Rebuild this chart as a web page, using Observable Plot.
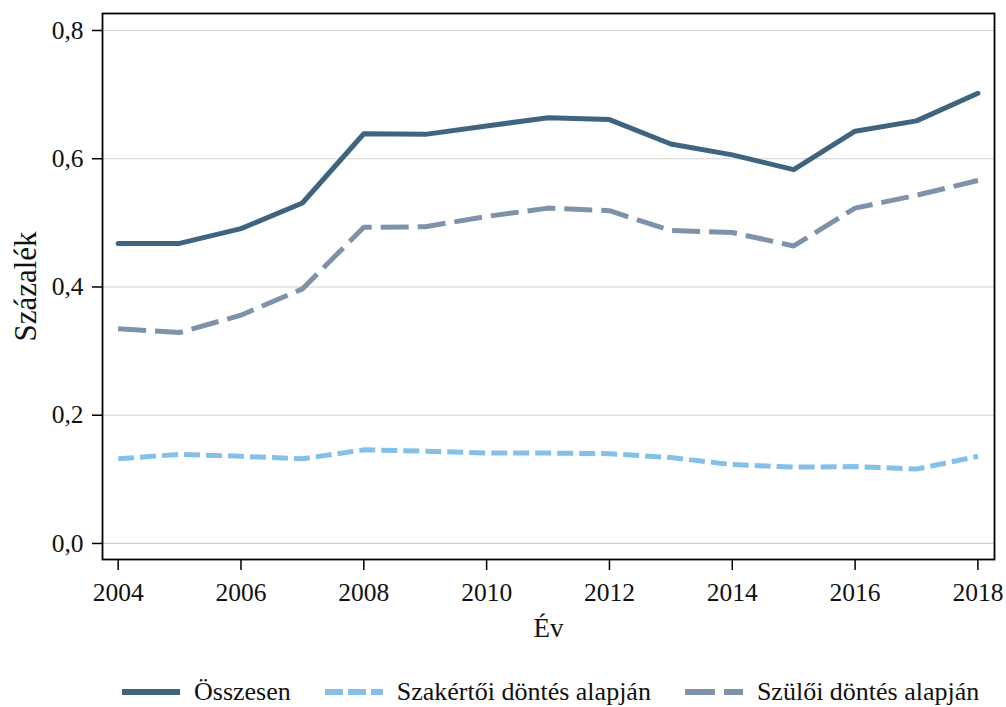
<!DOCTYPE html>
<html>
<head>
<meta charset="utf-8">
<script src="https://cdn.jsdelivr.net/npm/d3@7"></script>
<script src="https://cdn.jsdelivr.net/npm/@observablehq/plot@0.6"></script>
<style>
  html, body { margin: 0; padding: 0; background: #fff; }
  #wrap { position: relative; width: 1006px; height: 707px; font-family: "Liberation Serif", "Times New Roman", serif; }
  #legend { position: absolute; left: 122px; top: 677px; display: flex; align-items: flex-start; font-size: 26px; line-height: 30px; color: #111; white-space: nowrap; }
  #legend .item { display: flex; align-items: flex-start; margin-right: 34px; }
  #legend svg { display: block; margin-right: 14px; }
</style>
</head>
<body>
<div id="wrap"><div id="chart"></div><div id="legend"></div></div>
<script>
const years = [2004, 2005, 2006, 2007, 2008, 2009, 2010, 2011, 2012, 2013, 2014, 2015, 2016, 2017, 2018];
const osszesen = [0.468, 0.468, 0.491, 0.531, 0.639, 0.638, 0.651, 0.664, 0.661, 0.623, 0.606, 0.583, 0.643, 0.659, 0.702];
const szakertoi = [0.132, 0.139, 0.136, 0.132, 0.146, 0.144, 0.141, 0.141, 0.140, 0.134, 0.123, 0.119, 0.120, 0.116, 0.136];
const szuloi = [0.335, 0.329, 0.356, 0.397, 0.493, 0.494, 0.510, 0.523, 0.519, 0.488, 0.485, 0.464, 0.523, 0.543, 0.566];
const seriesNames = ["Összesen", "Szakértői döntés alapján", "Szülői döntés alapján"];
const seriesColors = ["#3e6480", "#85c0e9", "#7e92aa"];
const seriesDash = [null, "16,6", "28,9"];
const xTicks = [2004, 2006, 2008, 2010, 2012, 2014, 2016, 2018];
const yTicks = [0, 0.2, 0.4, 0.6, 0.8];
const xLabel = "Év";
const yLabel = "Százalék";

const seriesValues = [osszesen, szakertoi, szuloi];
const rows = seriesValues.map((vals, i) => years.map((yr, j) => ({year: yr, value: vals[j], series: seriesNames[i]})));

const fmt = v => v.toFixed(1).replace(".", ",");
const font = "Liberation Serif";

const lineMarks = rows.map((data, i) => Plot.line(data, {
  x: "year", y: "value",
  stroke: seriesColors[i],
  strokeWidth: 5,
  strokeDasharray: seriesDash[i] || undefined,
  strokeLinecap: seriesDash[i] ? "butt" : "round",
  strokeLinejoin: "round"
}));

const chart = Plot.plot({
  width: 1006,
  height: 665,
  marginLeft: 102,
  marginRight: 12,
  marginTop: 13,
  marginBottom: 106,
  style: {fontFamily: font, fontSize: "25.5px", color: "#111", background: "#fff"},
  x: {domain: [2003.745, 2018.27], ticks: xTicks, tickFormat: d => String(d)},
  y: {domain: [-0.025, 0.8265], ticks: yTicks, tickFormat: fmt},
  marks: [
    Plot.ruleY(yTicks, {stroke: "#d0d0d0", strokeWidth: 1.2}),
    ...lineMarks,
    Plot.frame({stroke: "#000", strokeWidth: 1.8}),
    Plot.axisX({ticks: xTicks, tickFormat: d => String(d), tickSize: 11, tickPadding: 12, label: null, stroke: "#000", strokeWidth: 1.5}),
    Plot.axisY({ticks: yTicks, tickFormat: fmt, tickSize: 10, tickPadding: 9, label: null, stroke: "#000", strokeWidth: 1.5}),
    Plot.text([xLabel], {frameAnchor: "bottom", dy: 69, text: d => d, fontSize: 27, textAnchor: "middle", lineAnchor: "middle", fill: "#111"}),
    Plot.text([yLabel], {frameAnchor: "left", dx: -76, rotate: -90, text: d => d, fontSize: 31, textAnchor: "middle", lineAnchor: "middle", fill: "#111"})
  ]
});
document.getElementById("chart").appendChild(chart);

const legend = d3.select("#legend");
seriesNames.forEach((name, i) => {
  const item = legend.append("div").attr("class", "item");
  const sw = item.append("svg").attr("width", 58).attr("height", 30);
  sw.append("line").attr("x1", 0).attr("x2", 58).attr("y1", 15).attr("y2", 15)
    .attr("stroke", seriesColors[i]).attr("stroke-width", 6)
    .attr("stroke-dasharray", seriesDash[i] ? (i === 1 ? "18,5" : "30,9") : null);
  item.append("span").text(name);
});
</script>
</body>
</html>
